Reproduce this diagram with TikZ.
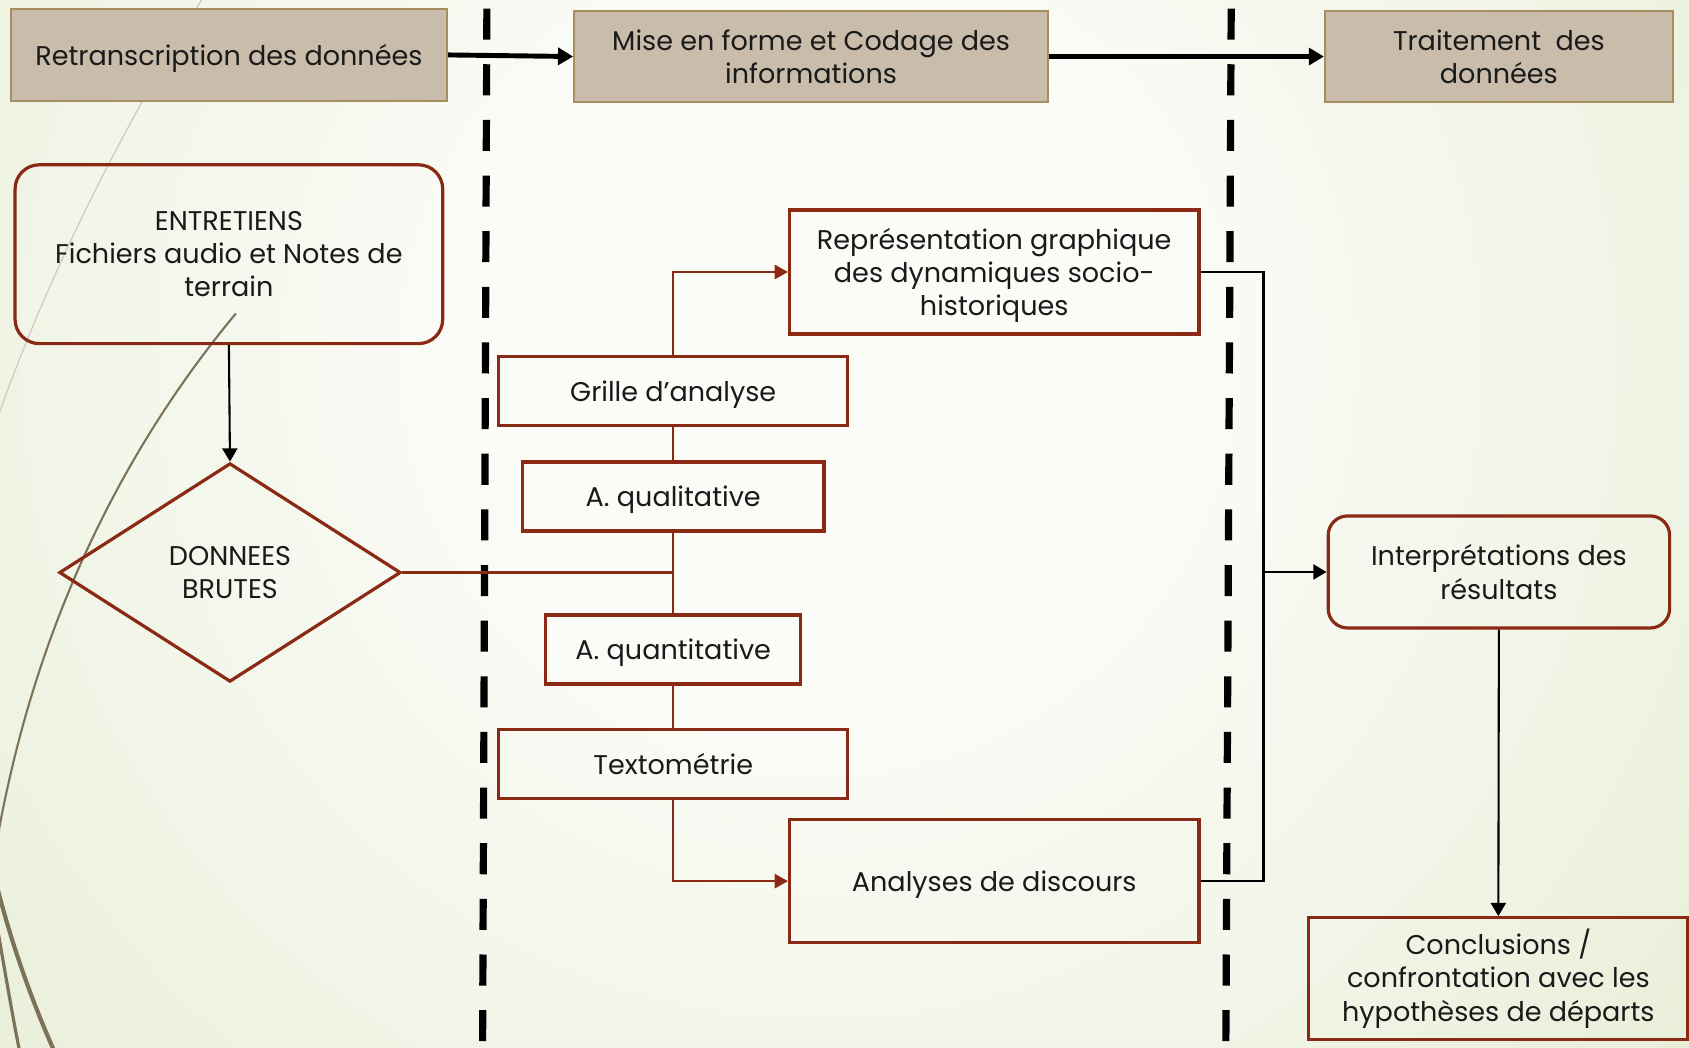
\documentclass[tikz,border=0pt]{standalone}
\usepackage{fontspec}
\setmainfont{Poppins}
\usetikzlibrary{arrows.meta,shapes.geometric}
\definecolor{bgin}{HTML}{FBFCF8}
\definecolor{bgout}{HTML}{DCE5C2}
\definecolor{tanfill}{HTML}{C9BCAB}
\definecolor{tanline}{HTML}{A88E5E}
\definecolor{dred}{HTML}{8A2A14}
\definecolor{wispc}{HTML}{7B7257}
\definecolor{wisplight}{HTML}{CBC8B6}
\definecolor{txt}{HTML}{1A1A1A}
\pgfdeclareradialshading{bgshade}{\pgfpoint{0bp}{0bp}}{color(0bp)=(bgin); color(8bp)=(bgin); color(42bp)=(bgout); color(75bp)=(bgout)}
\newdimen\pu \pu=0.02cm
\newcommand{\dfont}{\fontsize{14.3}{17.6}\selectfont}
\begin{document}
\begin{tikzpicture}[x=0.02cm,y=-0.02cm,
  every node/.style={font=\dfont, text=txt},
  tanbox/.style={draw=tanline, line width=1.1pt, fill=tanfill, inner sep=0pt, align=center},
  redbox/.style={draw=dred, line width=1.7pt, inner sep=0pt, align=center},
  roundbox/.style={redbox, rounded corners=0.45cm},
  diam/.style={redbox, diamond},
  flat/.style={text depth=0pt},
  redcon/.style={draw=dred, line width=1.1pt},
  redarr/.style={redcon, -{Triangle[length=7pt,width=7.5pt]}},
  blkcon/.style={draw=black, line width=1.1pt},
  blkarr/.style={blkcon, -{Triangle[length=7pt,width=8pt]}},
  bigarr/.style={draw=black, line width=2.6pt, -{Triangle[length=8pt,width=9pt]}},
  sepline/.style={draw=black, line width=3.8pt, dash pattern=on 16.4pt off 13pt},
  wisp/.style={draw=wispc}
]
\useasboundingbox (0,0) rectangle (1568,972);
\begin{scope}
  \clip (0,0) rectangle (1568,972);
  \shade[shading=bgshade] (-190,-620) rectangle (1710,1280);
  % decorative wisps
  \draw[draw=wisplight, line width=0.6pt] (190,-5) .. controls (120,110) and (50,240) .. (-3,390);
  \draw[wisp, line width=1.1pt] (219,291) .. controls (120,410) and (35,570) .. (-2,776);
  \draw[wisp, line width=2.2pt] (-2,826) .. controls (12,880) and (30,930) .. (50,975);
  \draw[wisp, line width=1.7pt] (-2,864) .. controls (6,910) and (12,945) .. (18,975);
\end{scope}

% separators
\draw[sepline] (452,8) -- (448,972);
\draw[sepline] (1143,8) -- (1138,972);

% top row
\node[tanbox, flat, minimum width=405\pu, minimum height=86\pu] (retr) at (212.5,51) {Retranscription des données};
\node[tanbox, minimum width=440\pu, minimum height=85\pu] (mise) at (753,52.5) {Mise en forme et Codage des\\informations};
\node[tanbox, minimum width=323\pu, minimum height=85\pu] (trait) at (1391.5,52.5) {Traitement\ \ des\\données};

% left column
\node[roundbox, minimum width=397\pu, minimum height=166\pu] (entr) at (212.5,236) {ENTRETIENS\\Fichiers audio et Notes de\\terrain};
\node[diam, minimum width=317\pu, minimum height=203\pu] (donn) at (213.5,531.5) {DONNEES\\BRUTES};

% middle column
\node[redbox, flat, minimum width=324\pu, minimum height=64\pu] (grille) at (625,363) {Grille d’analyse};
\node[redbox, flat, minimum width=280\pu, minimum height=64\pu] (qual) at (625,461) {A. qualitative};
\node[redbox, flat, minimum width=237\pu, minimum height=64\pu] (quant) at (625,603) {A. quantitative};
\node[redbox, flat, minimum width=324\pu, minimum height=64\pu] (texto) at (625,709) {Textométrie};
\node[redbox, flat, minimum width=380\pu, minimum height=115\pu] (repr) at (923,252.5) {Représentation graphique\\des dynamiques socio-\\historiques};
\node[redbox, flat, minimum width=380\pu, minimum height=114\pu] (anal) at (923,818) {Analyses de discours};

% right column
\node[roundbox, rounded corners=0.36cm, minimum width=317\pu, minimum height=104\pu] (interp) at (1391.5,531) {Interprétations des\\résultats};
\node[redbox, minimum width=352\pu, minimum height=113\pu] (concl) at (1391,908.5) {Conclusions /\\confrontation avec les\\hypothèses de départs};

\coordinate (bus) at (1173,531);

% connectors
\draw[bigarr] (retr.east) -- (mise.west);
\draw[bigarr] (mise.east) -- (trait.west);
\draw[blkarr] (entr.south) -- (donn.north);
\draw[redcon] (donn.east) -- (donn.east -| qual.south);
\draw[redcon] (grille.south) -- (qual.north);
\draw[redcon] (qual.south) -- (quant.north);
\draw[redcon] (quant.south) -- (texto.north);
\draw[redarr] (grille.north) |- (repr.west);
\draw[redarr] (texto.south) |- (anal.west);
\draw[blkcon] (repr.east) -| (bus) |- (anal.east);
\draw[blkarr] (bus) -- (interp.west);
\draw[blkarr] (interp.south) -- (concl.north);
\end{tikzpicture}
\end{document}
